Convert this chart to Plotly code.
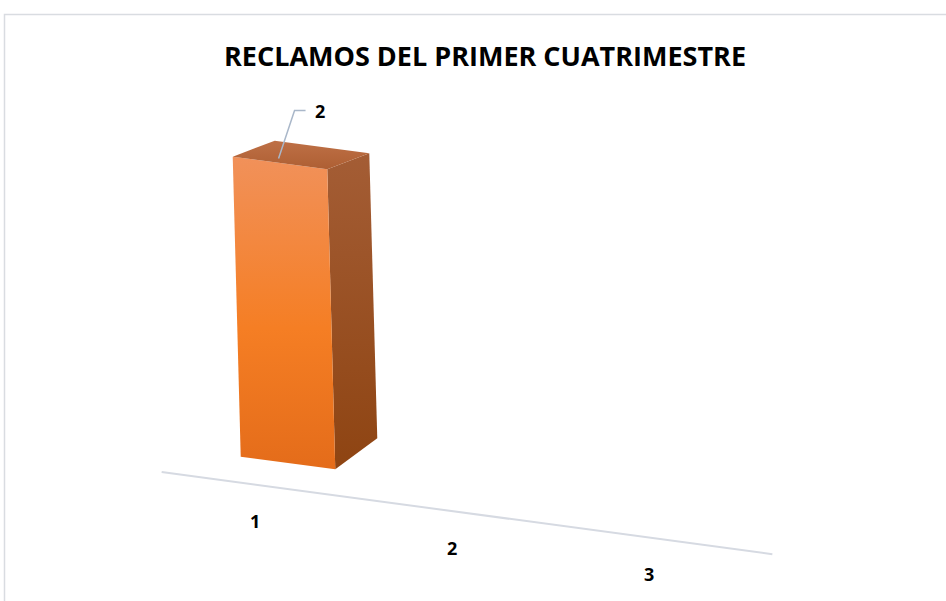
import plotly.graph_objects as go

# ---- data ----
categories = ["1", "2", "3"]
values = [2, None, None]
title_text = "RECLAMOS DEL PRIMER CUATRIMESTRE"

# ---- style / projection constants (oblique 3D view) ----
W, H = 946, 601
ORIGIN = (91.0, 436.5)     # screen position of (category 0, depth 0, value 0)
U_CAT = (197.0, 26.5)      # screen step per category
D_DEP = (42.0, -31.0)      # screen step per unit of depth at value 0
D_DEP_PER_VAL = (0.0, 7.5) # change of the depth step per value unit (perspective)
V_VAL = (-4.0, -150.0)     # screen step per value unit
HALF_W = 0.24              # half bar width in category units
FLOOR_DEPTH = -0.71
FLOOR_RANGE = (0.51, 3.61)

FRONT_SCALE = [[0, "#E46C1A"], [0.45, "#F57E24"], [1, "#F1915A"]]
SIDE_SCALE = [[0, "#8E4412"], [1, "#A45D35"]]
TOP_SCALE = [[0, "#AE5F33"], [1, "#BE7046"]]
AXIS_COLOR = "#D6DAE2"
LEADER_COLOR = "#A9B7C9"
FONT = "Open Sans"


def proj(c, d, v):
    dx = D_DEP[0] + v * D_DEP_PER_VAL[0]
    dy = D_DEP[1] + v * D_DEP_PER_VAL[1]
    x = ORIGIN[0] + c * U_CAT[0] + d * dx + v * V_VAL[0]
    y = ORIGIN[1] + c * U_CAT[1] + d * dy + v * V_VAL[1]
    return x, y


def face(points, scale):
    xs = [p[0] for p in points] + [points[0][0]]
    ys = [p[1] for p in points] + [points[0][1]]
    return go.Scatter(
        x=xs, y=ys, mode="lines", fill="toself",
        line=dict(width=0, color="rgba(0,0,0,0)"),
        fillgradient=dict(type="vertical", colorscale=scale,
                          start=max(ys), stop=min(ys)),
        hoverinfo="skip", showlegend=False,
    )


fig = go.Figure()

# floor / category axis line
fa = proj(FLOOR_RANGE[0], FLOOR_DEPTH, 0)
fb = proj(FLOOR_RANGE[1], FLOOR_DEPTH, 0)
fig.add_trace(go.Scatter(x=[fa[0], fb[0]], y=[fa[1], fb[1]], mode="lines",
                         line=dict(color=AXIS_COLOR, width=2),
                         hoverinfo="skip", showlegend=False))

annotations = []
for i, (cat, val) in enumerate(zip(categories, values)):
    c = i + 1
    # category label
    lx, ly = proj(c, 0, 0)
    annotations.append(dict(x=lx - 33, y=ly + 58, text=f"<b>{cat}</b>", showarrow=False,
                            xref="x", yref="y",
                            font=dict(family=FONT, size=18, color="#000000")))
    if val is None:
        continue
    l, r = c - HALF_W, c + HALF_W
    front = [proj(l, 0, 0), proj(r, 0, 0), proj(r, 0, val), proj(l, 0, val)]
    side = [proj(r, 0, 0), proj(r, 1, 0), proj(r, 1, val), proj(r, 0, val)]
    top = [proj(l, 0, val), proj(r, 0, val), proj(r, 1, val), proj(l, 1, val)]
    fig.add_trace(face(side, SIDE_SCALE))
    fig.add_trace(face(front, FRONT_SCALE))
    fig.add_trace(face(top, TOP_SCALE))
    # leader line + data label
    ax_, ay_ = proj(c - 0.05, 0.2, val)
    bx, by = ax_ + 16, ay_ - 48
    fig.add_trace(go.Scatter(x=[ax_, bx, bx + 11], y=[ay_, by, by], mode="lines",
                             line=dict(color=LEADER_COLOR, width=1.5),
                             hoverinfo="skip", showlegend=False))
    annotations.append(dict(x=bx + 18, y=by + 1, text=f"<b>{val}</b>", showarrow=False,
                            xref="x", yref="y", xanchor="left",
                            font=dict(family=FONT, size=18, color="#000000")))

annotations.append(dict(x=485, y=55, text=f"<b>{title_text}</b>", showarrow=False,
                        xref="x", yref="y",
                        font=dict(family=FONT, size=27, color="#000000")))

fig.update_layout(
    width=W, height=H,
    margin=dict(l=0, r=0, t=0, b=0),
    paper_bgcolor="white", plot_bgcolor="white",
    xaxis=dict(range=[0, W], visible=False, fixedrange=True),
    yaxis=dict(range=[H, 0], visible=False, fixedrange=True),
    annotations=annotations,
    shapes=[dict(type="rect", xref="x", yref="y", x0=4.5, y0=14.5, x1=W + 5, y1=H + 5,
                 line=dict(color="#D9DCE1", width=1.5), fillcolor="rgba(0,0,0,0)",
                 layer="below")],
)

fig.write_html("out.html")
